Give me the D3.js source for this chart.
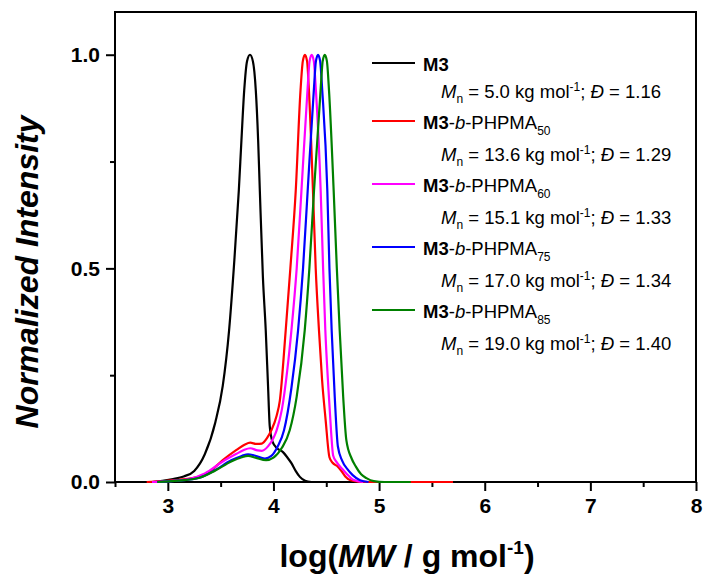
<!DOCTYPE html>
<html>
<head>
<meta charset="utf-8">
<script src="https://cdn.jsdelivr.net/npm/d3@7"></script>
<style>
  body { margin: 0; background: #fff; }
  svg { display: block; font-family: Arial, "Liberation Sans", sans-serif; }
</style>
</head>
<body>
<div id="chart"></div>
<script>
// log(MW) vs normalized intensity
var m3 = [[2.85,0],[2.95,0.003],[3.05,0.007],[3.15,0.013],[3.25,0.026],[3.35,0.065],[3.45,0.14],
  [3.52,0.225],[3.58,0.355],[3.63,0.52],[3.672,0.682],[3.697,0.8],[3.723,0.916],[3.75,0.985],
  [3.778,1.0],[3.805,0.985],[3.833,0.916],[3.855,0.8],[3.871,0.682],[3.9,0.48],[3.927,0.355],
  [3.949,0.223],[3.965,0.13],[3.99,0.095],[4.034,0.079],[4.09,0.07],[4.13,0.058],[4.17,0.044],
  [4.21,0.026],[4.25,0.012],[4.3,0.003],[4.36,0]];
var pm50 = [[2.8,0],[2.95,0.002],[3.1,0.005],[3.3,0.013],[3.4,0.025],[3.52,0.051],[3.65,0.075],
  [3.73,0.088],[3.78,0.092],[3.84,0.089],[3.89,0.09],[3.94,0.103],[3.98,0.121],[4.03,0.155],
  [4.06,0.19],[4.116,0.355],[4.16,0.5],[4.211,0.682],[4.256,0.916],[4.278,0.985],[4.298,1.0],
  [4.318,0.985],[4.336,0.916],[4.374,0.682],[4.4,0.5],[4.431,0.355],[4.46,0.24],[4.494,0.145],
  [4.53,0.058],[4.56,0.045],[4.6,0.038],[4.64,0.027],[4.68,0.013],[4.73,0.004],[4.8,0.001],
  [4.9,0],[5.7,0]];
var pm60 = [[2.85,0],[3.0,0.002],[3.2,0.007],[3.35,0.02],[3.52,0.048],[3.65,0.066],[3.72,0.075],
  [3.78,0.079],[3.85,0.074],[3.89,0.073],[3.95,0.084],[4.0,0.103],[4.03,0.121],[4.08,0.17],
  [4.13,0.26],[4.17,0.355],[4.22,0.5],[4.265,0.682],[4.322,0.916],[4.342,0.985],[4.362,1.0],
  [4.382,0.985],[4.402,0.916],[4.447,0.682],[4.47,0.5],[4.491,0.355],[4.52,0.22],[4.545,0.12],
  [4.565,0.062],[4.6,0.046],[4.65,0.031],[4.69,0.02],[4.75,0.006],[4.85,0]];
var pm75 = [[2.9,0],[3.1,0.003],[3.3,0.01],[3.45,0.028],[3.6,0.051],[3.7,0.061],[3.76,0.065],
  [3.82,0.062],[3.92,0.055],[3.98,0.061],[4.04,0.083],[4.1,0.121],[4.17,0.22],[4.233,0.355],
  [4.28,0.5],[4.324,0.682],[4.382,0.916],[4.402,0.985],[4.422,1.0],[4.442,0.985],[4.462,0.916],
  [4.51,0.682],[4.53,0.5],[4.551,0.355],[4.58,0.2],[4.61,0.083],[4.65,0.05],[4.7,0.03],
  [4.75,0.016],[4.82,0.004],[4.9,0]];
var pm85 = [[2.9,0],[3.1,0.003],[3.3,0.01],[3.45,0.027],[3.6,0.048],[3.7,0.058],[3.76,0.061],
  [3.83,0.057],[3.93,0.051],[4.0,0.057],[4.08,0.08],[4.154,0.121],[4.22,0.2],[4.296,0.355],
  [4.34,0.5],[4.384,0.682],[4.446,0.916],[4.466,0.985],[4.486,1.0],[4.506,0.985],[4.526,0.916],
  [4.57,0.682],[4.6,0.5],[4.627,0.355],[4.66,0.2],[4.69,0.098],[4.74,0.055],[4.78,0.036],
  [4.83,0.018],[4.88,0.009],[4.95,0.002],[5.05,0],[5.3,0]];

var seriesData = [m3, pm50, pm60, pm75, pm85];
var colors = ['#000000', '#ff0000', '#ff00ff', '#0000ff', '#008000'];
var dpNames = ['', '50', '60', '75', '85'];
var mnValues = ['5.0', '13.6', '15.1', '17.0', '19.0'];
var dispValues = ['1.16', '1.29', '1.33', '1.34', '1.40'];

var xMajor = [3, 4, 5, 6, 7, 8];
var xMinor = [2.5, 3.5, 4.5, 5.5, 6.5, 7.5];
var yMajor = [0, 0.5, 1.0];
var yMinor = [0.25, 0.75];

var width = 708, height = 578;
var margin = {top: 12, right: 12, bottom: 96, left: 115};

var svg = d3.select('#chart').append('svg')
  .attr('width', width).attr('height', height);

var x = d3.scaleLinear().domain([2.5, 8]).range([margin.left, width - margin.right]);
var y = d3.scaleLinear().domain([0, 1.1]).range([height - margin.bottom, margin.top]);

// axes
function styleAxis(g){
  g.select('.domain').remove();
  g.selectAll('.tick line').attr('stroke', '#000').attr('stroke-width', 2);
  g.selectAll('.tick text').attr('font-size', 21).attr('font-weight', 'bold')
    .attr('font-family', 'Arial, "Liberation Sans", sans-serif').attr('fill', '#000');
}

svg.append('g')
  .attr('transform', 'translate(0,' + (height - margin.bottom) + ')')
  .call(d3.axisBottom(x).tickValues(xMajor).tickSize(9).tickPadding(7).tickFormat(d3.format('d')))
  .call(styleAxis);
svg.append('g')
  .attr('transform', 'translate(0,' + (height - margin.bottom) + ')')
  .call(d3.axisBottom(x).tickValues(xMinor).tickSize(5).tickFormat(''))
  .call(styleAxis);
svg.append('g')
  .attr('transform', 'translate(' + margin.left + ',0)')
  .call(d3.axisLeft(y).tickValues(yMajor).tickSize(9).tickPadding(6).tickFormat(d3.format('.1f')))
  .call(styleAxis);
svg.append('g')
  .attr('transform', 'translate(' + margin.left + ',0)')
  .call(d3.axisLeft(y).tickValues(yMinor).tickSize(5).tickFormat(''))
  .call(styleAxis);

// frame
svg.append('rect')
  .attr('x', margin.left).attr('y', margin.top)
  .attr('width', width - margin.left - margin.right)
  .attr('height', height - margin.top - margin.bottom)
  .attr('fill', 'none').attr('stroke', '#000').attr('stroke-width', 2);

// curves (drawn over the frame, like the original)
var line = d3.line()
  .x(function(d){ return x(d[0]); })
  .y(function(d){ return y(d[1]); })
  .curve(d3.curveMonotoneX);

svg.append('g').selectAll('path')
  .data(seriesData)
  .enter().append('path')
  .attr('d', line)
  .attr('fill', 'none')
  .attr('stroke', function(d, i){ return colors[i]; })
  .attr('stroke-width', 2.2);

// axis titles
var xt = svg.append('text')
  .attr('x', 407).attr('y', 567)
  .attr('text-anchor', 'middle')
  .attr('font-size', 32).attr('font-weight', 'bold');
xt.append('tspan').text('log(');
xt.append('tspan').attr('font-style', 'italic').text('MW');
xt.append('tspan').text(' / g mol');
xt.append('tspan').attr('font-size', 19).attr('dy', -13).text('-1');
xt.append('tspan').attr('dy', 13).text(')');

svg.append('text')
  .attr('transform', 'translate(38,272) rotate(-90)')
  .attr('text-anchor', 'middle')
  .attr('font-size', 32).attr('font-weight', 'bold').attr('font-style', 'italic')
  .text('Normalized Intensity');

// legend
var legend = svg.append('g');
var ly = 63;
seriesData.forEach(function(d, i){
  legend.append('line')
    .attr('x1', 372).attr('x2', 415).attr('y1', ly).attr('y2', ly)
    .attr('stroke', colors[i]).attr('stroke-width', 2.2);
  var t = legend.append('text').attr('x', 423).attr('y', ly + 7.5).attr('font-size', 18.5);
  t.append('tspan').attr('font-weight', 'bold').text('M3');
  if (dpNames[i]) {
    t.append('tspan').text('-');
    t.append('tspan').attr('font-style', 'italic').text('b');
    t.append('tspan').text('-PHPMA');
    t.append('tspan').attr('font-size', 12).attr('dy', 6).text(dpNames[i]);
  }
  var my = ly + (dpNames[i] ? 40 : 35);
  var s = legend.append('text').attr('x', 441).attr('y', my).attr('font-size', 18.5);
  s.append('tspan').attr('font-style', 'italic').text('M');
  s.append('tspan').attr('font-size', 12).attr('dy', 5).text('n');
  s.append('tspan').attr('dy', -5).text(' = ' + mnValues[i] + ' kg mol');
  s.append('tspan').attr('font-size', 12).attr('dy', -7).text('-1');
  s.append('tspan').attr('dy', 7).text('; ');
  s.append('tspan').attr('font-style', 'italic').text('Đ');
  s.append('tspan').text(' = ' + dispValues[i]);
  ly = my + 23;
});
</script>
</body>
</html>
